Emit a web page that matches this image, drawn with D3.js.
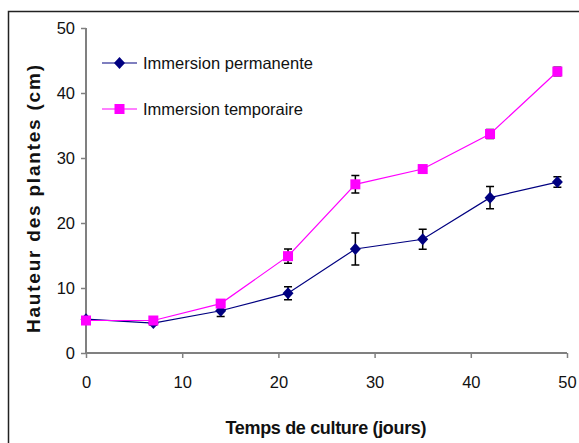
<!DOCTYPE html>
<html><head><meta charset="utf-8">
<script src="https://cdn.jsdelivr.net/npm/d3@7"></script>
<style>body{margin:0;background:#fff;} svg{display:block;font-family:"Liberation Sans Narrow","Liberation Sans",Arial,sans-serif;}</style>
</head><body>
<svg id="c" width="579" height="443"></svg>
<script>
const days = [0, 7, 14, 21, 28, 35, 42, 49];
const permanente = [5.2, 4.6, 6.5, 9.2, 16.0, 17.5, 23.9, 26.3];
const permanenteErr = [0.3, 0.3, 0.9, 1.0, 2.45, 1.55, 1.7, 0.8];
const temporaire = [5.0, 5.0, 7.6, 14.9, 25.95, 28.3, 33.7, 43.3];
const temporaireErr = [0.3, 0.3, 0.3, 1.1, 1.35, 0.35, 0.7, 0.65];
const seriesNames = ["Immersion permanente", "Immersion temporaire"];
const xTicks = [0, 10, 20, 30, 40, 50];
const yTicks = [0, 10, 20, 30, 40, 50];

const FONT = "'Liberation Sans Narrow','Liberation Sans',Arial,sans-serif";
const svg = d3.select("#c");
const x = d3.scaleLinear().domain([0, 50]).range([86, 567]);
const y = d3.scaleLinear().domain([0, 50]).range([353, 28]);

// frame
svg.append("path").attr("d", "M8.5,443 L8.5,11.5 L579,11.5").attr("fill", "none").attr("stroke", "#222").attr("stroke-width", 1.5);

// axes
const axisColor = "#808080";
const yAxis = svg.append("g").attr("transform", "translate(86,0)")
  .call(d3.axisLeft(y).tickValues(yTicks).tickSize(5).tickPadding(6));
const xAxis = svg.append("g").attr("transform", "translate(0,353)")
  .call(d3.axisBottom(x).tickValues(xTicks).tickSize(5).tickPadding(18));
[yAxis, xAxis].forEach(g => {
  g.select(".domain").attr("stroke", axisColor).attr("stroke-width", 2);
  g.selectAll(".tick line").attr("stroke", axisColor).attr("stroke-width", 1.5);
  g.selectAll(".tick text").attr("font-size", 16.5).attr("fill", "#111")
    .attr("font-family", FONT);
});
xAxis.select(".domain").attr("d", "M86,0H567");
yAxis.select(".domain").attr("d", "M0,353V28");

const series = [
  {name: seriesNames[0], vals: permanente, err: permanenteErr, color: "#000080", shape: "diamond"},
  {name: seriesNames[1], vals: temporaire, err: temporaireErr, color: "#FF00FF", shape: "square"}
];

const line = d3.line().x(d => x(d[0])).y(d => y(d[1]));

function marker(g, shape, color, cx, cy) {
  if (shape === "square") {
    g.append("rect").attr("x", cx - 5).attr("y", cy - 5).attr("width", 10).attr("height", 10).attr("fill", color);
  } else {
    g.append("path").attr("d", `M${cx},${cy-6}L${cx+5.5},${cy}L${cx},${cy+6}L${cx-5.5},${cy}Z`).attr("fill", color);
  }
}

series.forEach(s => {
  const pts = days.map((d, i) => [d, s.vals[i], s.err[i]]);
  svg.append("path").datum(pts).attr("d", line).attr("fill", "none").attr("stroke", s.color).attr("stroke-width", 1.2);
});
series.forEach(s => {
  const g = svg.append("g");
  days.forEach((d, i) => {
    const cx = x(d), yt = y(s.vals[i] + s.err[i]), yb = y(s.vals[i] - s.err[i]);
    g.append("path").attr("d", `M${cx},${yt}V${yb}M${cx-4},${yt}H${cx+4}M${cx-4},${yb}H${cx+4}`)
      .attr("stroke", "#000").attr("stroke-width", 1.5).attr("fill", "none");
  });
  days.forEach((d, i) => marker(g, s.shape, s.color, x(d), y(s.vals[i])));
});

// legend
series.forEach((s, i) => {
  const ly = 63 + i * 46;
  svg.append("line").attr("x1", 102).attr("x2", 137).attr("y1", ly).attr("y2", ly).attr("stroke", s.color).attr("stroke-width", 1.2);
  marker(svg, s.shape, s.color, 119.5, ly);
  svg.append("text").attr("x", 143).attr("y", ly + 6).attr("font-size", 16.5).attr("font-family", FONT)
    .attr("fill", "#111").attr("textLength", i === 0 ? 170 : 160).attr("lengthAdjust", "spacing")
    .text(s.name);
});

// axis titles
svg.append("text").attr("x", 326).attr("y", 434).attr("text-anchor", "middle")
  .attr("font-size", 18).attr("font-weight", "bold").attr("fill", "#111").attr("font-family", FONT)
  .attr("textLength", 201).attr("lengthAdjust", "spacing")
  .text("Temps de culture (jours)");
svg.append("text").attr("transform", "translate(40,199) rotate(-90)").attr("text-anchor", "middle")
  .attr("font-size", 19).attr("font-weight", "bold").attr("fill", "#111").attr("font-family", "'Liberation Sans',Arial,sans-serif")
  .attr("textLength", 268).attr("lengthAdjust", "spacing")
  .text("Hauteur des plantes (cm)");
</script>
</body></html>
